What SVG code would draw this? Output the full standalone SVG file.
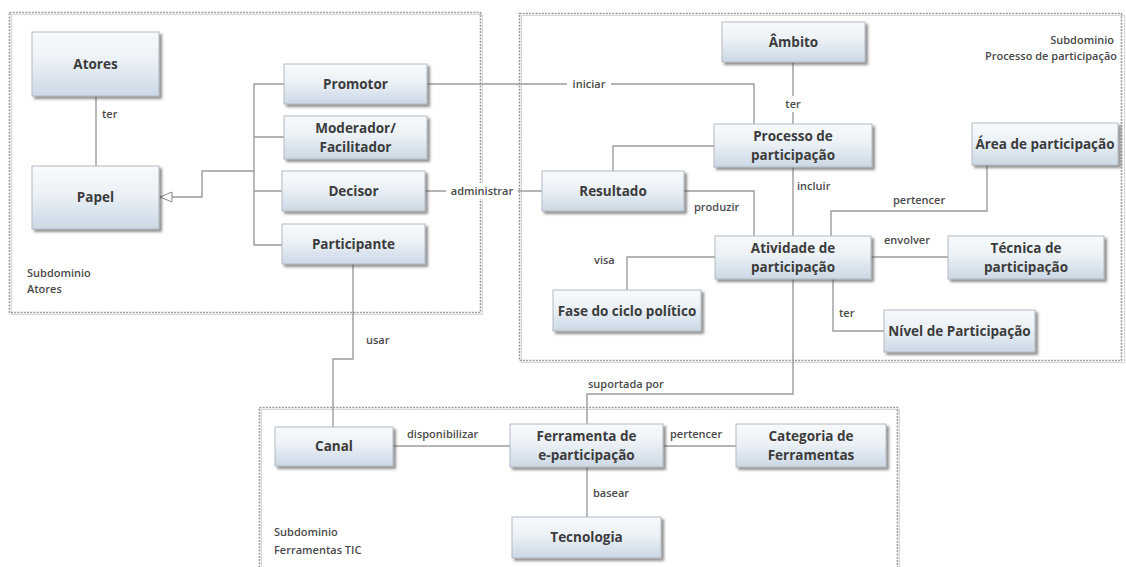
<svg xmlns="http://www.w3.org/2000/svg" width="1126" height="567" viewBox="0 0 1126 567">
<defs>
<linearGradient id="g" x1="0" y1="0" x2="0" y2="1">
<stop offset="0" stop-color="#f8fafc"/>
<stop offset="0.45" stop-color="#ebf1f6"/>
<stop offset="1" stop-color="#cbd8e5"/>
</linearGradient>
<filter id="sh" x="-10%" y="-10%" width="130%" height="140%">
<feDropShadow dx="2.5" dy="2.5" stdDeviation="1" flood-color="#444" flood-opacity="0.6"/>
</filter>
<marker id="tri" viewBox="0 0 14 12" refX="13" refY="6" markerWidth="14" markerHeight="12" markerUnits="userSpaceOnUse" orient="auto">
<path d="M1 1 L13 6 L1 11 Z" fill="#fff" stroke="#8a8a8a" stroke-width="1"/>
</marker>
<style>
.box{fill:url(#g);stroke:#b3bac1;stroke-width:1;filter:url(#sh)}
.nt{font-family:"Open Sans","Liberation Sans",sans-serif;font-weight:700;font-size:13.5px;fill:#3c3c3c;text-anchor:middle}
.lb{font-family:"Open Sans","Liberation Sans",sans-serif;font-weight:600;font-size:11px;fill:#4a4a4a}
.sd{fill:none;stroke:#9a9a9a;stroke-width:1.6;stroke-dasharray:2 1.2}
.sd2{fill:none;stroke:#d6d6d6;stroke-width:1}
.cn{fill:none;stroke:#9c9c9c;stroke-width:1.4}
.bg{fill:#fff}
</style>
</defs>
<rect width="1126" height="567" fill="#fff"/>

<g id="subdominios">
<rect class="sd2" x="11.5" y="14.5" width="471" height="300"/>
<rect class="sd" x="9.5" y="12.5" width="471" height="300"/>
<rect class="sd2" x="521.5" y="15.5" width="603" height="347"/>
<rect class="sd" x="519.5" y="13.5" width="602" height="347"/>
<rect class="sd2" x="261.5" y="409.5" width="638" height="170"/>
<rect class="sd" x="259.5" y="407.5" width="638" height="170"/>
<text class="lb" x="27" y="277">Subdominio</text>
<text class="lb" x="27" y="293">Atores</text>
<text class="lb" x="1114" y="44" text-anchor="end">Subdominio</text>
<text class="lb" x="1117" y="60" text-anchor="end">Processo de participação</text>
<text class="lb" x="274" y="536">Subdominio</text>
<text class="lb" x="274" y="554">Ferramentas TIC</text>
</g>

<g id="conectores">
<path class="cn" d="M96 96 V166"/>
<path class="cn" d="M284 84 H254 V245 H282 M254 137 H284 M254 191 H282"/>
<path class="cn" d="M254 171 H202 V197 H160" marker-end="url(#tri)"/>
<path class="cn" d="M427 84 H754 V124"/>
<path class="cn" d="M793 62 V124"/>
<path class="cn" d="M714 146 H613 V171"/>
<path class="cn" d="M425 191 H542"/>
<path class="cn" d="M684 191 H754 V236"/>
<path class="cn" d="M793 167 V236"/>
<path class="cn" d="M831 236 V211 H987 V165"/>
<path class="cn" d="M871 257 H948"/>
<path class="cn" d="M715 257 H627 V290"/>
<path class="cn" d="M833 279 V331 H884"/>
<path class="cn" d="M793 279 V394 H587 V424"/>
<path class="cn" d="M353 264 V359 H333 V427"/>
<path class="cn" d="M393 446 H510"/>
<path class="cn" d="M663 446 H736"/>
<path class="cn" d="M587 467 V517"/>
<rect class="bg" x="567" y="76" width="44" height="16"/>
<rect class="bg" x="783" y="96" width="20" height="16"/>
<rect class="bg" x="446" y="183" width="72" height="16"/>
<text class="lb" x="102" y="118">ter</text>
<text class="lb" x="589" y="88" text-anchor="middle">iniciar</text>
<text class="lb" x="793" y="108" text-anchor="middle">ter</text>
<text class="lb" x="482" y="195" text-anchor="middle">administrar</text>
<text class="lb" x="694" y="211">produzir</text>
<text class="lb" x="797" y="190">incluir</text>
<text class="lb" x="893" y="204">pertencer</text>
<text class="lb" x="884" y="244">envolver</text>
<text class="lb" x="594" y="264">visa</text>
<text class="lb" x="839" y="317">ter</text>
<text class="lb" x="366" y="344">usar</text>
<text class="lb" x="588" y="388">suportada por</text>
<text class="lb" x="407" y="438">disponibilizar</text>
<text class="lb" x="670" y="438">pertencer</text>
<text class="lb" x="593" y="497">basear</text>
</g>

<g id="atores"><rect class="box" x="32" y="32" width="127" height="64"/><text class="nt" x="95.5" y="69">Atores</text></g>
<g id="papel"><rect class="box" x="32" y="166" width="127" height="63"/><text class="nt" x="95.5" y="202">Papel</text></g>
<g id="promotor"><rect class="box" x="284" y="64" width="143" height="40"/><text class="nt" x="355.5" y="89">Promotor</text></g>
<g id="moderador"><rect class="box" x="284" y="116" width="143" height="43"/><text class="nt" x="355.5" y="133">Moderador/</text><text class="nt" x="355.5" y="152">Facilitador</text></g>
<g id="decisor"><rect class="box" x="282" y="171" width="143" height="40"/><text class="nt" x="353.5" y="196">Decisor</text></g>
<g id="participante"><rect class="box" x="282" y="224" width="143" height="40"/><text class="nt" x="353.5" y="249">Participante</text></g>

<g id="ambito"><rect class="box" x="722" y="22" width="143" height="40"/><text class="nt" x="793.5" y="47">Âmbito</text></g>
<g id="processo"><rect class="box" x="714" y="124" width="158" height="43"/><text class="nt" x="793" y="141">Processo de</text><text class="nt" x="793" y="160">participação</text></g>
<g id="area"><rect class="box" x="972" y="123" width="146" height="42"/><text class="nt" x="1045" y="149">Área de participação</text></g>
<g id="resultado"><rect class="box" x="542" y="171" width="142" height="40"/><text class="nt" x="613" y="196">Resultado</text></g>
<g id="atividade"><rect class="box" x="715" y="236" width="156" height="43"/><text class="nt" x="793" y="253">Atividade de</text><text class="nt" x="793" y="272">participação</text></g>
<g id="tecnica"><rect class="box" x="948" y="236" width="156" height="43"/><text class="nt" x="1026" y="253">Técnica de</text><text class="nt" x="1026" y="272">participação</text></g>
<g id="fase"><rect class="box" x="553" y="290" width="148" height="41"/><text class="nt" x="627" y="316">Fase do ciclo político</text></g>
<g id="nivel"><rect class="box" x="884" y="310" width="151" height="42"/><text class="nt" x="959.5" y="336">Nível de Participação</text></g>

<g id="canal"><rect class="box" x="275" y="427" width="118" height="39"/><text class="nt" x="334" y="451">Canal</text></g>
<g id="ferramenta"><rect class="box" x="510" y="424" width="153" height="43"/><text class="nt" x="586.5" y="441">Ferramenta de</text><text class="nt" x="586.5" y="460">e-participação</text></g>
<g id="categoria"><rect class="box" x="736" y="424" width="150" height="43"/><text class="nt" x="811" y="441">Categoria de</text><text class="nt" x="811" y="460">Ferramentas</text></g>
<g id="tecnologia"><rect class="box" x="512" y="517" width="149" height="41"/><text class="nt" x="586.5" y="542">Tecnologia</text></g>
</svg>
